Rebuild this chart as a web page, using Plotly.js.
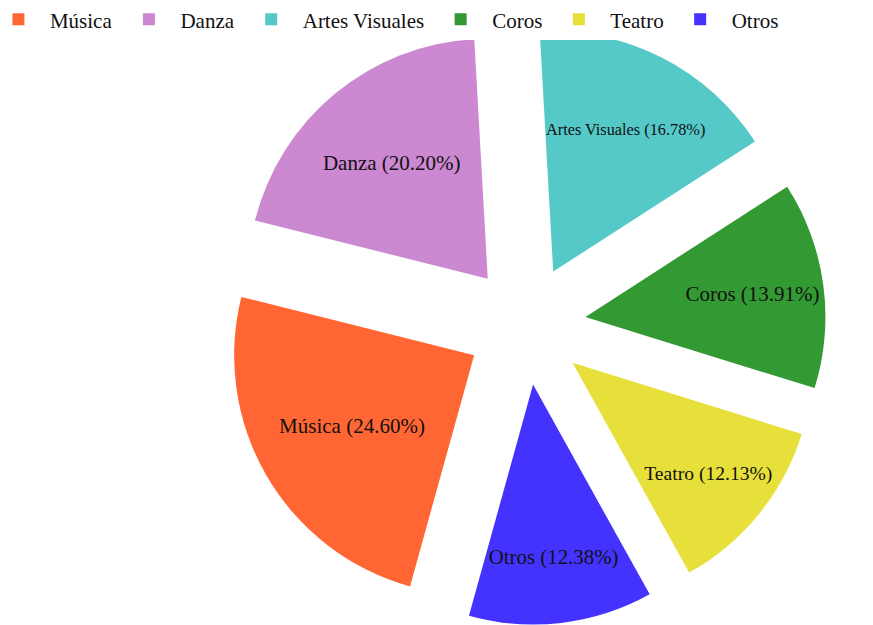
<!DOCTYPE html>
<html>
<head>
<meta charset="utf-8">
<script src="https://cdn.plot.ly/plotly-3.0.1.min.js"></script>
<style>html,body{margin:0;padding:0;background:#fff;}#chart{width:873px;height:625px;}</style>
</head>
<body>
<div id="chart"></div>
<script>
const categories = ["Música", "Danza", "Artes Visuales", "Coros", "Teatro", "Otros"];
const shares = [24.60, 20.20, 16.78, 13.91, 12.13, 12.38];
const sliceColors = ["#FF6633", "#CC88D0", "#55C8C8", "#339933", "#E8E03A", "#4433FF"];

const trace = {
  type: "pie",
  labels: categories,
  values: shares,
  sort: false,
  direction: "clockwise",
  rotation: 195.5,
  pull: 0.25,
  marker: {colors: sliceColors, line: {width: 0}},
  texttemplate: "%{label} (%{percent:.2%})",
  textposition: "inside",
  insidetextorientation: "horizontal",
  textfont: {family: "Liberation Serif, Times New Roman, serif", size: 21, color: "#111"},
  hoverinfo: "label+percent",
  domain: {x: [0.205, 1], y: [0, 1]}
};

const layout = {
  width: 873, height: 625,
  margin: {l: 0, r: 0, t: 25, b: 0, autoexpand: false},
  paper_bgcolor: "#fff",
  showlegend: true,
  legend: {
    orientation: "h", x: -0.015, xanchor: "left", y: 1.043, yanchor: "top",
    itemwidth: 53,
    font: {family: "Liberation Serif, Times New Roman, serif", size: 21, color: "#111"},
    traceorder: "normal"
  },
  font: {family: "Liberation Serif, Times New Roman, serif"}
};

Plotly.newPlot("chart", [trace], layout, {displayModeBar: false, staticPlot: true});
</script>
</body>
</html>
